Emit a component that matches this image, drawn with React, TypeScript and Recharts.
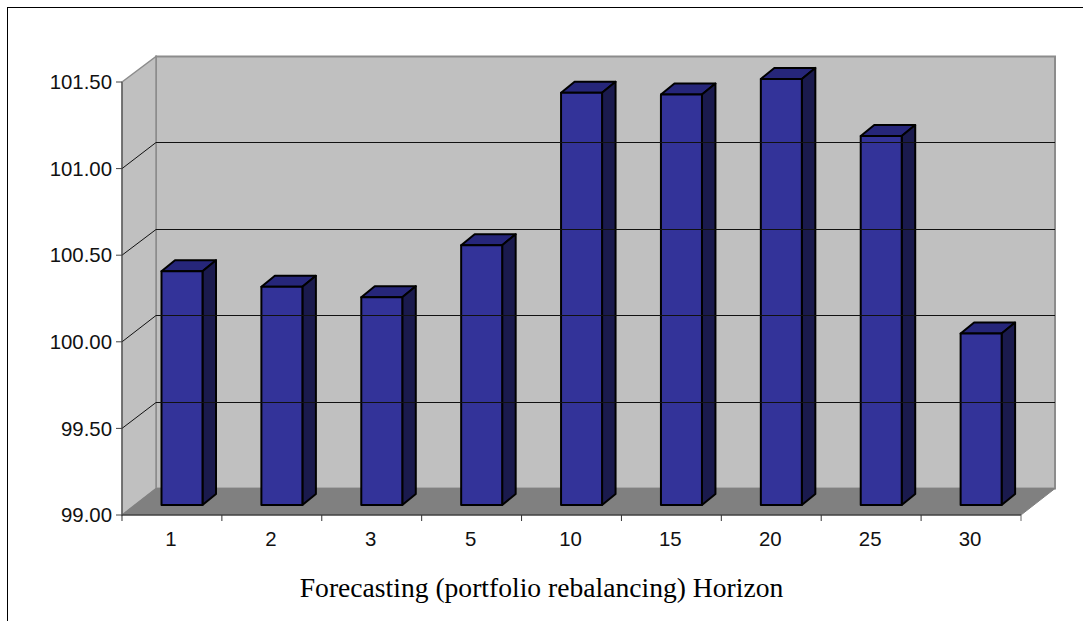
import React from "react";
import { BarChart, Bar, XAxis, YAxis, ReferenceArea, ReferenceLine } from "recharts";

// Forecasting horizons and the value reached at each one
const horizons = ["1", "2", "3", "5", "10", "15", "20", "25", "30"];
const values = [100.35, 100.26, 100.2, 100.5, 101.38, 101.37, 101.46, 101.13, 99.99];
const yTicks = [99, 99.5, 100, 100.5, 101, 101.5];
const gridValues = [99.5, 100, 100.5, 101];

const rows = horizons.map((horizon, i) => ({ horizon, value: values[i] }));

// Pseudo-3D projection of the plot box and of each column
const WALL_DX = 34;
const WALL_DY = 26.5;
const BAR_DX = 13.5;
const BAR_DY = 11;
const BAR_SHIFT_X = 10.5;
const BAR_SHIFT_Y = 10;

const WALL_FILL = "#C0C0C0";
const FLOOR_FILL = "#808080";
const WALL_EDGE = "#8C8C8C";
const FRONT_FILL = "#333399";
const TOP_FILL = "#26267A";
const SIDE_FILL = "#1A1A4D";

function pts(list: number[][]) {
  return list.map((p) => p.join(",")).join(" ");
}

function Room(props: any) {
  const { x, y, width, height } = props;
  const r = x + width;
  const b = y + height;
  const backTop = y - WALL_DY + 1;
  const backBottom = b - WALL_DY;
  return (
    <g>
      <rect x={x + WALL_DX} y={backTop} width={width} height={backBottom - backTop} fill={WALL_FILL} stroke={WALL_EDGE} strokeWidth={2} />
      <polygon points={pts([[x, y], [x + WALL_DX, backTop], [x + WALL_DX, backBottom], [x, b]])} fill={WALL_FILL} stroke={WALL_EDGE} strokeWidth={1.5} />
      <polygon points={pts([[x, b], [x + WALL_DX, backBottom], [r + WALL_DX, backBottom], [r, b]])} fill={FLOOR_FILL} stroke={FLOOR_FILL} strokeWidth={1} />
    </g>
  );
}

// A gridline runs up the side wall, then across the back wall
function GridRow(props: any) {
  const { x1, x2, y1 } = props;
  const back = Math.round(y1 - WALL_DY) + 0.5;
  return (
    <g stroke="#111" strokeWidth={1} fill="none">
      <polyline points={pts([[x1, y1], [x1 + WALL_DX, back], [x2 + WALL_DX, back]])} />
    </g>
  );
}

function Column(props: any) {
  const { x, y, width, height } = props;
  const l = x + BAR_SHIFT_X;
  const t = y - BAR_SHIFT_Y;
  const r = l + width;
  const b = t + height;
  const common = { stroke: "#000", strokeWidth: 2, strokeLinejoin: "round" as const };
  return (
    <g>
      <polygon points={pts([[l, t], [l + BAR_DX, t - BAR_DY], [r + BAR_DX, t - BAR_DY], [r, t]])} fill={TOP_FILL} {...common} />
      <polygon points={pts([[r, t], [r + BAR_DX, t - BAR_DY], [r + BAR_DX, b - BAR_DY], [r, b]])} fill={SIDE_FILL} {...common} />
      <rect x={l} y={t} width={width} height={height} fill={FRONT_FILL} {...common} />
    </g>
  );
}

// Category label, with tick marks on the band edges instead of the centre
function HorizonTick(props: any) {
  const { x, y, payload, index } = props;
  const band = 99.9;
  return (
    <g>
      <line x1={x - band / 2} y1={y - 8} x2={x - band / 2} y2={y - 2} stroke="#333" strokeWidth={1} />
      {index === horizons.length - 1 && (
        <line x1={x + band / 2} y1={y - 8} x2={x + band / 2} y2={y - 2} stroke="#666" strokeWidth={1} />
      )}
      <text x={x - 1} y={y + 23} textAnchor="middle" fontSize={20.4} fontFamily="'Liberation Sans', Arial, sans-serif" fill="#111">
        {payload.value}
      </text>
    </g>
  );
}

export default function App() {
  return (
    <div style={{ position: "absolute", left: 0, top: 0, width: 1083, height: 621, overflow: "hidden", background: "#fff" }}>
      <div style={{ position: "absolute", left: 7, top: 7, width: 1076, height: 614, borderLeft: "1px solid #000", borderTop: "1px solid #000", boxSizing: "border-box" }} />
      <BarChart
        width={1083}
        height={621}
        data={rows}
        margin={{ top: 82, right: 62, left: 0, bottom: 0 }}
        barCategoryGap={0}
      >
        <ReferenceArea y1={99} y2={101.5} ifOverflow="visible" shape={Room} />
        {gridValues.map((v) => (
          <ReferenceLine key={v} y={v} ifOverflow="visible" shape={GridRow} />
        ))}
        <XAxis
          dataKey="horizon"
          interval={0}
          height={106}
          tickLine={false}
          stroke="#222"
          tick={HorizonTick as any}
          label={{
            value: "Forecasting (portfolio rebalancing) Horizon",
            position: "insideBottom",
            offset: 24,
            dx: -30,
            fontSize: 27.6,
            fontFamily: "'Liberation Serif', 'Times New Roman', serif",
            fill: "#000",
          }}
        />
        <YAxis
          width={122}
          domain={[99, 101.5]}
          ticks={yTicks}
          tickFormatter={(v: number) => v.toFixed(2)}
          tickSize={6}
          tickMargin={4}
          stroke="#444"
          tick={{ fontSize: 20.4, fontFamily: "'Liberation Sans', Arial, sans-serif", fill: "#111" }}
        />
        <Bar dataKey="value" barSize={41} shape={Column} isAnimationActive={false} />
      </BarChart>
    </div>
  );
}
